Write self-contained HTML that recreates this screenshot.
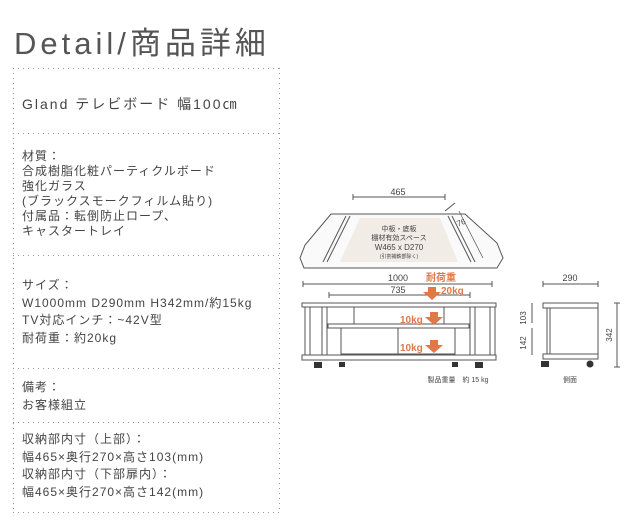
<!DOCTYPE html>
<html><head><meta charset="utf-8"><style>
body{margin:0;width:640px;height:527px;background:#fff;position:relative;overflow:hidden;font-family:"Liberation Sans","Noto Sans CJK JP",sans-serif;color:#555}
.t{position:absolute;white-space:nowrap}
.h{position:absolute;left:13px;width:267px;height:1px;background:repeating-linear-gradient(90deg,#999 0 1px,transparent 1px 5px)}
.v{position:absolute;top:68px;height:445px;width:1px;background:repeating-linear-gradient(180deg,#999 0 1px,transparent 1px 5px)}
.b{position:absolute;left:22px;font-size:12px;letter-spacing:1px;color:#444}
</style></head><body>
<div class="t" style="left:14px;top:18px;font-size:31px;letter-spacing:4px;color:#555">Detail/商品詳細</div>
<div class="h" style="top:68px"></div><div class="h" style="top:133px"></div><div class="h" style="top:255px"></div><div class="h" style="top:368px"></div><div class="h" style="top:422px"></div><div class="h" style="top:512px"></div>
<div class="v" style="left:13px"></div><div class="v" style="left:279px"></div>
<div class="t" style="left:22px;top:94px;font-size:14px;letter-spacing:2px;color:#444">Gland テレビボード 幅100㎝</div>
<div class="b t" style="top:149px;line-height:15px">材質：<br>合成樹脂化粧パーティクルボード<br>強化ガラス<br>(ブラックスモークフィルム貼り)<br>付属品：転倒防止ロープ、<br>キャスタートレイ</div>
<div class="b t" style="top:277px;line-height:17.6px">サイズ：<br>W1000mm D290mm H342mm/約15kg<br>TV対応インチ：~42V型<br>耐荷重：約20kg</div>
<div class="b t" style="top:378px;line-height:18px">備考：<br>お客様組立</div>
<div class="b t" style="top:431px;line-height:17.5px">収納部内寸（上部）：<br>幅465×奥行270×高さ103(mm)<br>収納部内寸（下部扉内）：<br>幅465×奥行270×高さ142(mm)</div>
<svg style="position:absolute;left:0;top:0" width="640" height="527" font-family="Liberation Sans, Noto Sans CJK JP, sans-serif">
<g stroke="#555" fill="none" stroke-width="1">
<line x1="353" y1="197" x2="445" y2="197"/><line x1="353" y1="194" x2="353" y2="200"/><line x1="445" y1="194" x2="445" y2="200"/>
<line x1="445" y1="211" x2="455" y2="203"/>
<path d="M331 214 L465 214 L497 243 L503 258 L497 268 L304 268 L300 258 L305 245 Z" fill="#fafafa"/>
<line x1="346" y1="216" x2="323" y2="262"/><line x1="350" y1="216" x2="327" y2="262"/>
<line x1="448" y1="216" x2="471" y2="262"/><line x1="452" y1="216" x2="475" y2="262"/>
<line x1="459" y1="211" x2="483" y2="258" stroke-width="0.7"/>
</g>
<path d="M360 218 L440 218 L458 262 L340 262 Z" fill="#f1ece6"/>
<g fill="#444" text-anchor="middle">
<text x="398" y="195" font-size="9">465</text>
<text x="462" y="225" font-size="8" transform="rotate(-20 462 225)">76</text>
<text x="399" y="231" font-size="7">中板・底板</text>
<text x="399" y="240" font-size="7">棚材有効スペース</text>
<text x="399" y="250" font-size="8">W465 x D270</text>
<text x="399" y="258" font-size="5">(引割補鉄部除く)</text>
<text x="398" y="281" font-size="9">1000</text>
<text x="398" y="293" font-size="9">735</text>
<text x="570" y="281" font-size="9">290</text>
<text x="458" y="382" font-size="7">製品重量　約 15 kg</text>
<text x="570" y="382" font-size="7">側面</text>
</g>
<g stroke="#555" fill="none" stroke-width="1">
<line x1="303" y1="284" x2="492" y2="284"/><line x1="303" y1="281" x2="303" y2="287"/><line x1="492" y1="281" x2="492" y2="287"/>
<line x1="329" y1="295" x2="470" y2="295"/><line x1="329" y1="292" x2="329" y2="298"/><line x1="470" y1="292" x2="470" y2="298"/>
<rect x="302" y="303" width="194" height="4"/>
<rect x="305" y="307" width="5" height="48"/><rect x="490" y="307" width="5" height="48"/>
<rect x="322" y="307" width="5" height="48"/><rect x="470" y="307" width="5" height="48"/>
<line x1="354" y1="307" x2="354" y2="324"/><line x1="444" y1="307" x2="444" y2="324"/>
<rect x="328" y="324" width="141" height="4"/>
<rect x="341" y="328" width="114" height="26"/><line x1="398" y1="328" x2="398" y2="354"/>
<rect x="302" y="355" width="194" height="5"/>
<line x1="543" y1="284" x2="598" y2="284"/><line x1="543" y1="281" x2="543" y2="287"/><line x1="598" y1="281" x2="598" y2="287"/>
<rect x="543" y="303" width="55" height="5"/><rect x="547" y="308" width="3" height="46"/><line x1="598" y1="308" x2="598" y2="354"/>
<rect x="543" y="354" width="55" height="5"/>
<line x1="532" y1="303" x2="532" y2="323"/><line x1="532" y1="328" x2="532" y2="355"/>
<line x1="617" y1="303" x2="617" y2="367"/><line x1="614" y1="303" x2="620" y2="303"/><line x1="614" y1="367" x2="620" y2="367"/>
</g>
<g fill="#333">
<rect x="314" y="362" width="8" height="6"/><rect x="339" y="362" width="6" height="5"/><rect x="452" y="362" width="6" height="5"/><rect x="475" y="362" width="8" height="6"/>
<rect x="541" y="361" width="8" height="6"/><circle cx="590" cy="364" r="3.5"/>
</g>
<g fill="#444" font-size="8" text-anchor="middle">
<text x="526" y="318" transform="rotate(-90 526 318)">103</text>
<text x="526" y="343" transform="rotate(-90 526 343)">142</text>
<text x="612" y="335" transform="rotate(-90 612 335)">342</text>
</g>
<g fill="#e0784a">
<path d="M428 287 h8 v5 h5 l-9 8 l-9 -8 h5 z"/>
<path d="M430 312 h8 v5 h5 l-9 8 l-9 -8 h5 z"/>
<path d="M430 340 h8 v5 h5 l-9 8 l-9 -8 h5 z"/>
<g font-weight="bold" font-size="10"><text x="426" y="281" font-size="10">耐荷重</text><text x="441" y="294">20kg</text><text x="400" y="323">10kg</text><text x="400" y="351">10kg</text></g>
</g>
</svg>
</body></html>
